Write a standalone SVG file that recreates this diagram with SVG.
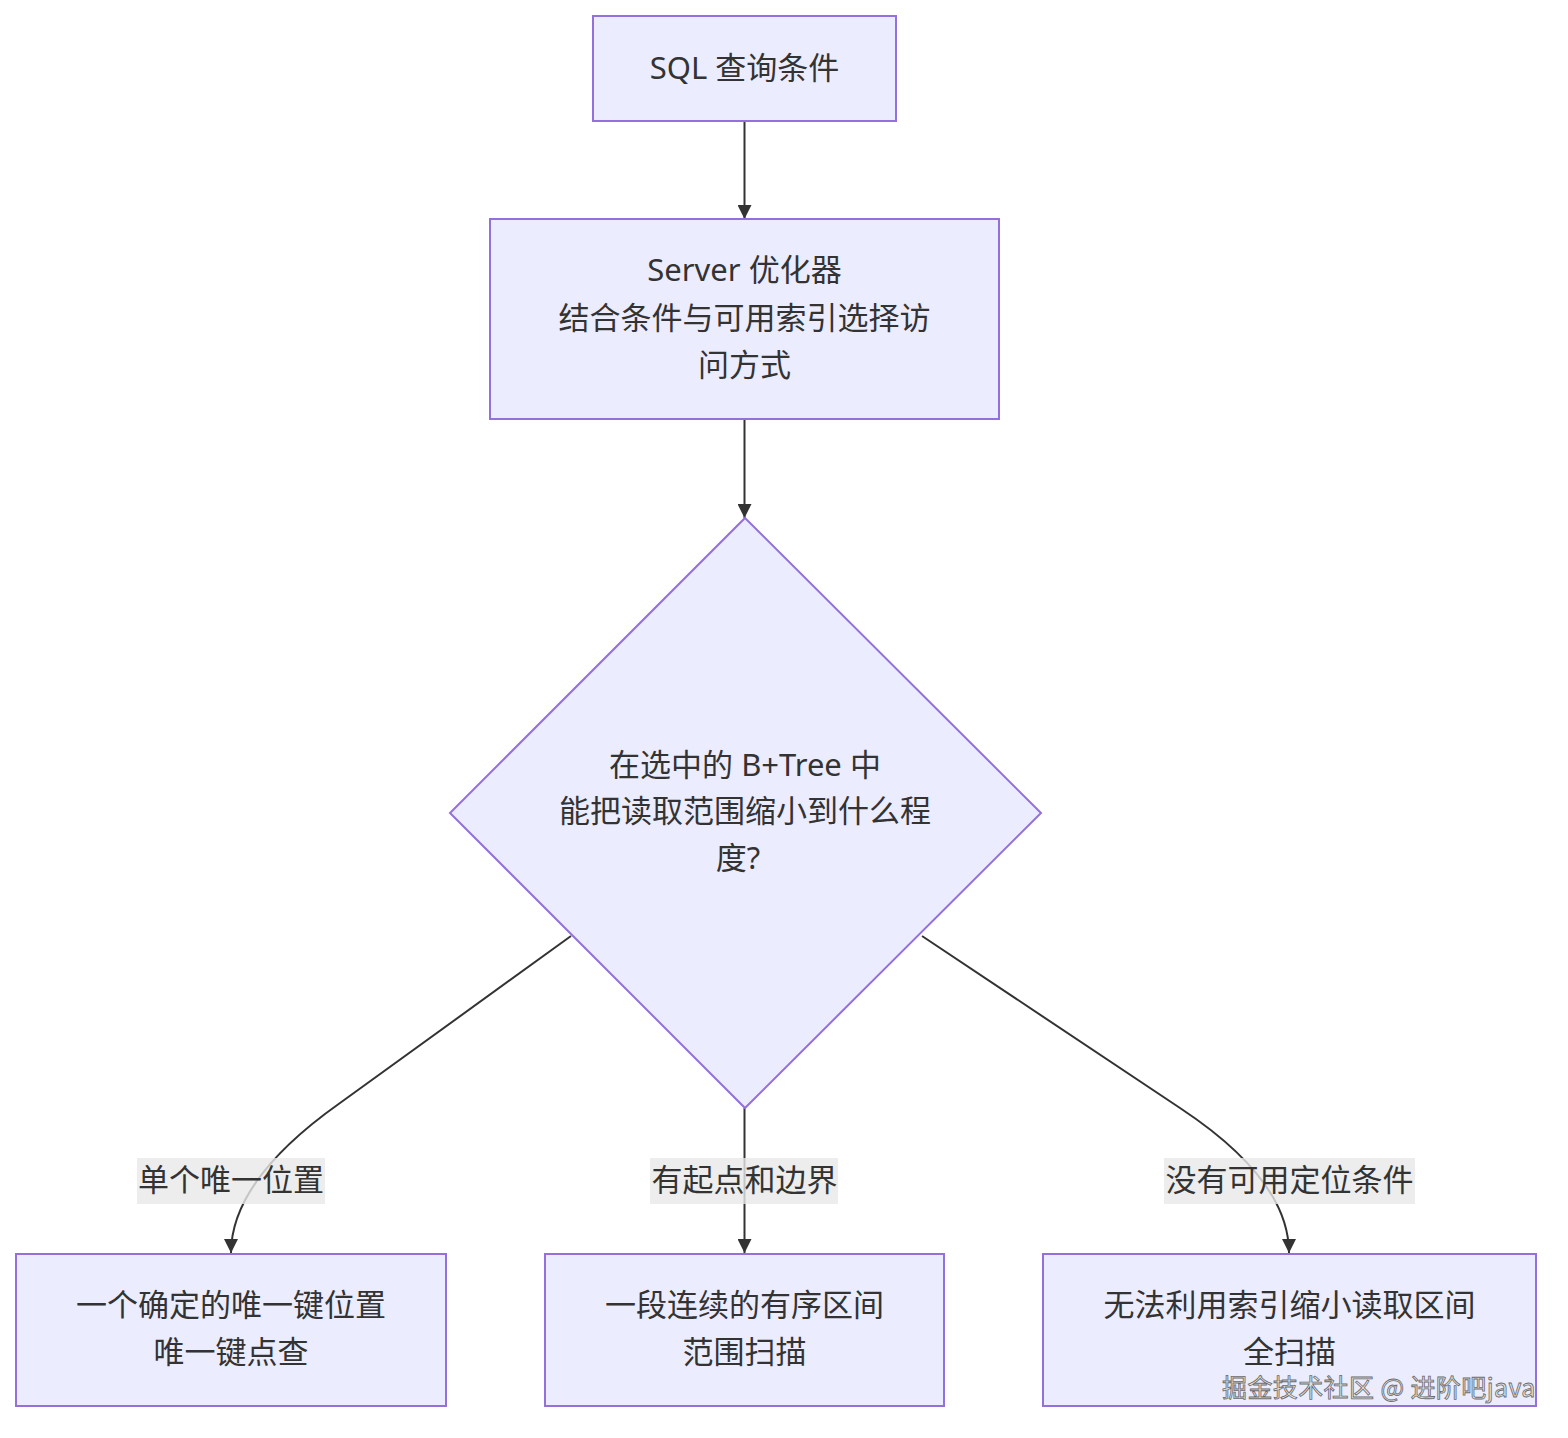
<svg xmlns="http://www.w3.org/2000/svg" width="1568" height="1438" viewBox="0 0 1568 1438">
<style>
.node rect,.node polygon{fill:#ECECFF;stroke:#9370DB;stroke-width:2}
.t{font-family:"Noto Sans","Noto Sans CJK SC",sans-serif;font-size:31px;fill:#333;text-anchor:middle}
.edge{fill:none;stroke:#333;stroke-width:2}
.lbl{fill:rgba(232,232,232,0.8)}
.wm{font-family:"Noto Sans CJK SC",sans-serif;font-size:25px;letter-spacing:0.4px;fill:#e4e4e4;stroke:#6a6a6a;stroke-width:0.8}
</style>
<defs>
<marker id="arr" viewBox="0 0 14 14" refX="14" refY="7" markerWidth="14" markerHeight="14" markerUnits="userSpaceOnUse" orient="auto">
<path d="M0,0 L14,7 L0,14 z" fill="#333"/>
</marker>
</defs>
<rect width="1568" height="1438" fill="#fff"/>
<g id="connectors">
<path class="edge" d="M744.5,121 L744.5,219" marker-end="url(#arr)"/>
<path class="edge" d="M744.5,419 L744.5,518" marker-end="url(#arr)"/>
<path class="edge" d="M571,936 L340,1103 Q231,1180 231,1253" marker-end="url(#arr)"/>
<path class="edge" d="M744.5,1108 L744.5,1253" marker-end="url(#arr)"/>
<path class="edge" d="M922,936 L1180,1108 Q1289,1180 1289,1253" marker-end="url(#arr)"/>
<g id="edge-labels">
<rect class="lbl" x="137" y="1158" width="188" height="46"/>
<text class="t" x="231" y="1191">单个唯一位置</text>
<rect class="lbl" x="650" y="1158" width="188" height="46"/>
<text class="t" x="744.5" y="1191">有起点和边界</text>
<rect class="lbl" x="1164" y="1158" width="251" height="46"/>
<text class="t" x="1289.5" y="1191">没有可用定位条件</text>
</g>
</g>
<g id="nodeA" class="node">
<rect x="593" y="16" width="303" height="105"/>
<text class="t" x="744.5" y="79">SQL 查询条件</text>
</g>
<g id="nodeB" class="node">
<rect x="490" y="219" width="509" height="200"/>
<text class="t" x="744.5" y="281">Server 优化器</text>
<text class="t" x="744.5" y="329">结合条件与可用索引选择访</text>
<text class="t" x="744.5" y="376">问方式</text>
</g>
<g id="nodeC" class="node">
<polygon points="745,518 1041,813 745,1108 450,813"/>
<text class="t" x="745" y="776">在选中的 B+Tree 中</text>
<text class="t" x="745" y="822">能把读取范围缩小到什么程</text>
<text class="t" x="738" y="869">度?</text>
</g>
<g id="nodeD" class="node">
<rect x="16" y="1254" width="430" height="152"/>
<text class="t" x="231" y="1316">一个确定的唯一键位置</text>
<text class="t" x="231" y="1363">唯一键点查</text>
</g>
<g id="nodeE" class="node">
<rect x="545" y="1254" width="399" height="152"/>
<text class="t" x="744.5" y="1316">一段连续的有序区间</text>
<text class="t" x="744.5" y="1363">范围扫描</text>
</g>
<g id="nodeF" class="node">
<rect x="1043" y="1254" width="493" height="152"/>
<text class="t" x="1289.5" y="1316">无法利用索引缩小读取区间</text>
<text class="t" x="1289.5" y="1363">全扫描</text>
</g>
<text class="wm" x="1222" y="1397">掘金技术社区 @ 进阶吧java</text>
</svg>
